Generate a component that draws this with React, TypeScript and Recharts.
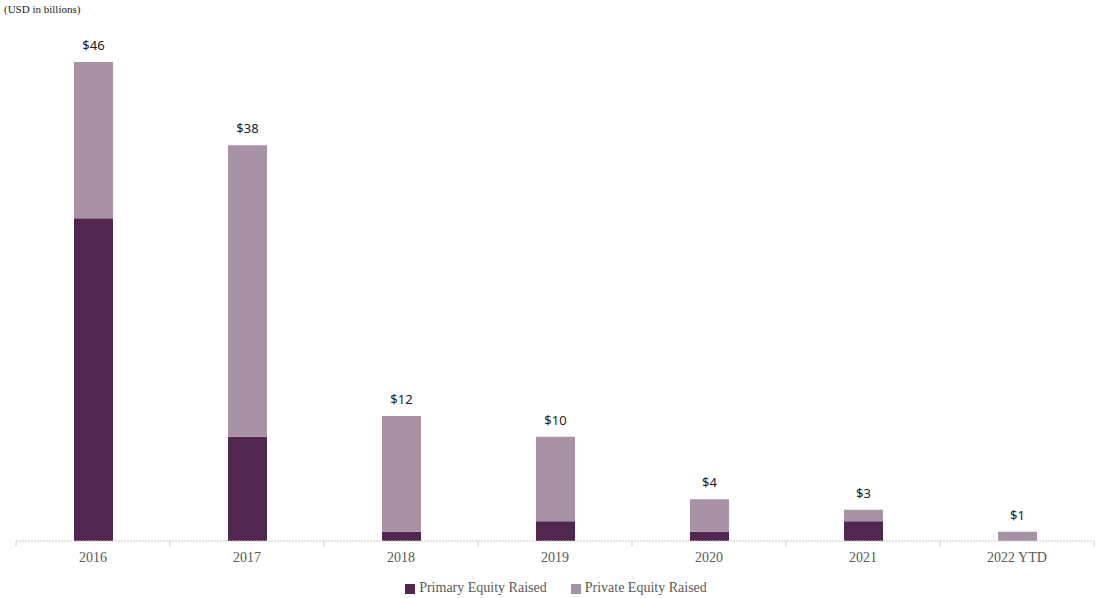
import React from "react";
import { BarChart, Bar, XAxis, YAxis, Legend, LabelList } from "recharts";

const years = ["2016", "2017", "2018", "2019", "2020", "2021", "2022 YTD"];
const primaryEquity = [31, 10, 0.9, 1.9, 0.9, 1.9, 0];
const privateEquity = [15, 28, 11.1, 8.1, 3.1, 1.1, 0.9];
const totals = [46, 38, 12, 10, 4, 3, 1];

const data = years.map((year, i) => ({
  year,
  primary: primaryEquity[i],
  private: privateEquity[i],
  total: totals[i],
}));

const DARK = "#52274f";
const LIGHT = "#a893a6";

const CHART_W = 1096;
const CHART_H = 598;
const MARGIN = { top: 62, right: 2, bottom: 11, left: 16 };
const BAND = (CHART_W - MARGIN.left - MARGIN.right) / years.length;

function BoundaryTick(props: any) {
  const { x, y, payload, index } = props;
  const left = x - BAND / 2;
  return (
    <g>
      <line x1={left} y1={y - 8} x2={left} y2={y - 3} stroke="#c8c8c8" />
      {index === years.length - 1 && (
        <line x1={left + BAND} y1={y - 8} x2={left + BAND} y2={y - 3} stroke="#c8c8c8" />
      )}
      <text
        x={x}
        y={y + 13}
        textAnchor="middle"
        fill="#595959"
        fontSize={14}
        fontFamily="'Liberation Serif', serif"
      >
        {payload.value}
      </text>
    </g>
  );
}

export default function App() {
  return (
    <div style={{ position: "absolute", left: 0, top: 0, width: CHART_W, height: CHART_H, background: "#fff" }}>
      <div
        style={{
          position: "absolute",
          left: 4,
          top: 3,
          fontFamily: "'Liberation Serif', serif",
          fontSize: 11,
          color: "#222",
        }}
      >
        (USD in billions)
      </div>
      <BarChart width={CHART_W} height={CHART_H} data={data} margin={MARGIN} barSize={39}>
        <XAxis
          dataKey="year"
          axisLine={{ stroke: "#c8c8c8", strokeDasharray: "2 1" }}
          tickLine={false}
          tick={<BoundaryTick />}
          height={30}
          interval={0}
        />
        <YAxis hide domain={[0, 46]} />
        <Legend
          verticalAlign="bottom"
          align="center"
          iconType="square"
          iconSize={10}
          wrapperStyle={{
            bottom: 2,
            paddingLeft: 6,
            fontFamily: "'Liberation Serif', serif",
            fontSize: 14,
          }}
          formatter={(value: string, _e: any, i: number) => (
            <span style={{ color: "#595959", paddingRight: i === 0 ? 14 : 0 }}>{value}</span>
          )}
        />
        <Bar dataKey="primary" name="Primary Equity Raised" stackId="a" fill={DARK} isAnimationActive={false} />
        <Bar dataKey="private" name="Private Equity Raised" stackId="a" fill={LIGHT} isAnimationActive={false}>
          <LabelList
            dataKey="total"
            position="top"
            offset={12}
            formatter={(v: any) => `$${v}`}
            style={{ fill: "#222", fontSize: 13, fontFamily: "'Noto Sans', sans-serif" }}
          />
        </Bar>
      </BarChart>
    </div>
  );
}
